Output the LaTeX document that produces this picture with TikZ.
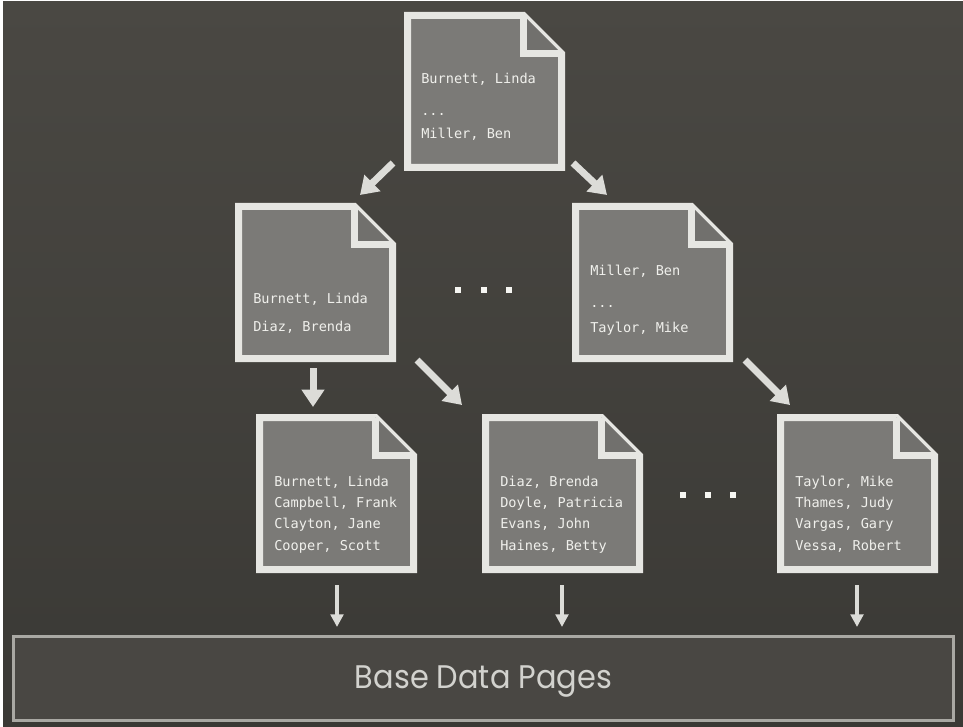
\documentclass[tikz,border=0pt]{standalone}
\usepackage{fontspec}
\setmonofont{DejaVu Sans Mono}
\newfontfamily\labelfont{Poppins}
\usetikzlibrary{arrows.meta,calc}
\definecolor{bgtop}{HTML}{4A4843}
\definecolor{bgbot}{HTML}{3A3935}
\definecolor{pagefill}{HTML}{7B7A77}
\definecolor{foldfill}{HTML}{71706D}
\definecolor{pagestroke}{HTML}{E6E6E2}
\definecolor{pagetext}{HTML}{F0F0EC}
\definecolor{arrowcol}{HTML}{DCDCD8}
\definecolor{dotcol}{HTML}{F6F6F2}
\definecolor{basefill}{HTML}{494743}
\definecolor{baseline}{HTML}{A9A8A3}
\definecolor{basetext}{HTML}{D2D2CE}
\tikzset{
  pageline/.style={draw=pagestroke, line width=5.25pt, line join=miter, fill=pagefill},
  foldline/.style={draw=pagestroke, line width=5.25pt, line join=miter},
  entry/.style={anchor=base west, inner sep=0pt, text=pagetext, font=\ttfamily\fontsize{10.2}{12}\selectfont},
  bigarrow/.style={draw=arrowcol, line width=5.25pt, -{Triangle[width=16.5pt,length=13pt]}},
  thinarrow/.style={draw=arrowcol, line width=2.4pt, -{Triangle[width=9.5pt,length=9.5pt]}},
  bigdot/.style={fill=dotcol, minimum size=4.5pt, inner sep=0pt},
  pagebox/.style={minimum width=120.75pt, minimum height=119.25pt, inner sep=0pt},
  basebox/.style={draw=baseline, fill=basefill, line width=2.25pt, minimum width=705pt, minimum height=63pt},
  baselabel/.style={text=basetext, inner sep=0pt, xscale=0.93, font=\labelfont\fontsize{24.5}{28}\selectfont}
}
\newcommand\docpage[3]{%
  \node[pagebox] (#1) at ({#2+80.5},{#3+79.5}) {};
  \path[pageline] ({#2+3.5},{#3+3.5}) -- ({#2+119.5},{#3+3.5}) -- ({#2+157.5},{#3+41.5}) -- ({#2+157.5},{#3+155.5}) -- ({#2+3.5},{#3+155.5}) -- cycle;
  \fill[foldfill] ({#2+119.5},{#3+3.5}) -- ({#2+157.5},{#3+41.5}) -- ({#2+119.5},{#3+41.5}) -- cycle;
  \path[foldline] ({#2+119.5},{#3+3.5}) -- ({#2+119.5},{#3+41.5}) -- ({#2+157.5},{#3+41.5});
}
\begin{document}
\begin{tikzpicture}[x=0.75pt,y=-0.75pt]
\useasboundingbox (0,0) rectangle (963,727);
\fill[white] (0,0) rectangle (963,727);
\shade[top color=bgtop, bottom color=bgbot] (3,2) rectangle (963,727);

% pages
\docpage{p1}{404}{12}
\docpage{p2}{235}{203}
\docpage{p3}{572}{203}
\docpage{p4}{256}{414}
\docpage{p5}{482}{414}
\docpage{p6}{777}{414}

% texts
\node[entry] (p1a) at (421,84) {Burnett, Linda};
\node[entry] (p1b) at (421,116) {...};
\node[entry] (p1c) at (421,139) {Miller, Ben};

\node[entry] (p2a) at (253,303) {Burnett, Linda};
\node[entry] (p2b) at (253,331) {Diaz, Brenda};

\node[entry] (p3a) at (590,276) {Miller, Ben};
\node[entry] (p3b) at (590,307) {...};
\node[entry] (p3c) at (590,332) {Taylor, Mike};

\node[entry] (p4a) at (274,486) {Burnett, Linda};
\node[entry] (p4b) at (274,507.3) {Campbell, Frank};
\node[entry] (p4c) at (274,528.6) {Clayton, Jane};
\node[entry] (p4d) at (274,550) {Cooper, Scott};

\node[entry] (p5a) at (500,486) {Diaz, Brenda};
\node[entry] (p5b) at (500,507.3) {Doyle, Patricia};
\node[entry] (p5c) at (500,528.6) {Evans, John};
\node[entry] (p5d) at (500,550) {Haines, Betty};

\node[entry] (p6a) at (795,486) {Taylor, Mike};
\node[entry] (p6b) at (795,507.3) {Thames, Judy};
\node[entry] (p6c) at (795,528.6) {Vargas, Gary};
\node[entry] (p6d) at (795,550) {Vessa, Robert};

% ellipsis squares
\node[bigdot] (d1) at (458,290) {};
\node[bigdot] (d2) at (484,290) {};
\node[bigdot] (d3) at (509,290) {};
\node[bigdot] (d4) at (683,495) {};
\node[bigdot] (d5) at (708,495) {};
\node[bigdot] (d6) at (733,495) {};

% base box
\node[basebox] (base) at (483.5,678.5) {};
\node[baselabel] (baselbl) at (483.5,682) {Base Data Pages};

% arrow end points
\coordinate (a1s) at (393,163); \coordinate (a1e) at (360,195);
\coordinate (a2s) at (573,163); \coordinate (a2e) at (607,195);
\coordinate (a3s) at (313,368); \coordinate (a3e) at (313,407);
\coordinate (a4s) at (417,360); \coordinate (a4e) at (462,405);
\coordinate (a5s) at (745,360); \coordinate (a5e) at (790,405);
\coordinate (b1s) at (337,585); \coordinate (b1e) at (337,627);
\coordinate (b2s) at (562,585); \coordinate (b2e) at (562,627);
\coordinate (b3s) at (857,585); \coordinate (b3e) at (857,627);

\draw[bigarrow] (a1s) -- (a1e);
\draw[bigarrow] (a2s) -- (a2e);
\draw[bigarrow] (a3s) -- (a3e);
\draw[bigarrow] (a4s) -- (a4e);
\draw[bigarrow] (a5s) -- (a5e);
\draw[thinarrow] (b1s) -- (b1e);
\draw[thinarrow] (b2s) -- (b2e);
\draw[thinarrow] (b3s) -- (b3e);
\end{tikzpicture}
\end{document}
